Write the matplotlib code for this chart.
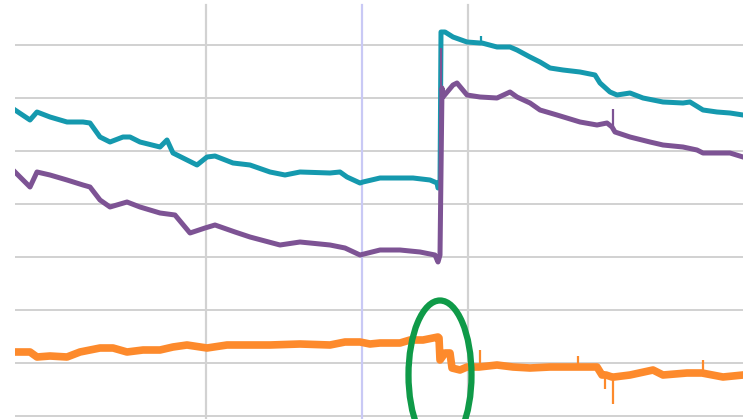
import numpy as np
import matplotlib
matplotlib.use("Agg")
import matplotlib.pyplot as plt
from matplotlib.patches import Ellipse

# Series (time index, signal level)
teal_t = [0, 15, 22, 35, 52, 68, 75, 85, 95, 108, 115, 125, 145, 152, 158, 172, 182, 192, 200,
          218, 235, 255, 270, 285, 315, 325, 332, 345, 348, 365, 382, 398, 415, 422, 423, 425,
          426, 430, 438, 452, 465, 467, 482, 495, 502, 515, 525, 535, 548, 565, 580, 585,
          595, 602, 615, 628, 648, 668, 675, 688, 702, 715, 728]
teal_v = [306, 296, 304, 299, 294, 294, 293, 279, 274, 279, 279, 274, 269, 276, 263, 256, 251, 259, 260,
          253, 251, 244, 241, 244, 243, 244, 239, 233, 234, 238, 238, 238, 236, 233, 228, 230,
          384, 384, 379, 374, 373, 373, 369, 369, 366, 359, 354, 348, 346, 344, 341, 333,
          324, 321, 323, 318, 314, 313, 314, 306, 304, 303, 301]
teal_spike_t = [466]
teal_spike_v = [380]

purple_t = [0, 15, 22, 35, 52, 68, 75, 85, 95, 112, 125, 145, 160, 175, 190, 200, 220, 235, 265,
            285, 315, 330, 345, 365, 385, 405, 420, 423, 425, 427, 428, 438, 442, 452, 465,
            482, 495, 502, 515, 525, 542, 565, 582, 592, 597, 600, 615, 635, 648, 668,
            682, 688, 702, 715, 728]
purple_v = [244, 229, 244, 241, 236, 231, 229, 216, 209, 214, 209, 203, 201, 183, 188, 191, 184, 179, 171,
            174, 171, 168, 161, 166, 166, 164, 161, 154, 161, 328, 319, 331, 333, 321, 319,
            318, 324, 319, 313, 306, 301, 294, 291, 293, 289, 284, 279, 274, 271, 269,
            266, 263, 263, 263, 259]
purple_spike_t = [426, 598]
purple_spike_v = [368, 307]

orange_t = [0, 15, 22, 35, 52, 65, 85, 98, 112, 128, 145, 158, 172, 192, 212, 232, 255, 285, 315,
            330, 345, 355, 365, 385, 395, 408, 423, 424, 425, 430, 435, 437, 445, 452, 464,
            482, 498, 515, 535, 562, 582, 587, 591, 597, 599, 615,
            638, 648, 672, 687, 708, 728]
orange_v = [64, 64, 59, 60, 59, 64, 68, 68, 64, 66, 66, 69, 71, 68, 71, 71, 71, 72, 71,
            74, 74, 72, 73, 73, 76, 76, 79, 78, 56, 63, 63, 48, 46, 49, 49,
            51, 49, 48, 49, 49, 49, 41, 41, 39, 39, 41,
            46, 41, 43, 43, 39, 41]
orange_spike_t = [465, 563, 590, 598, 688]
orange_spike_v = [66, 60, 27, 12, 56]

grid_levels = np.arange(0, 400, 53)
grid_times = [191, 453]
marker_time = 347

fig = plt.figure(figsize=(7.43, 4.19), dpi=100)
ax = fig.add_axes([15 / 743, 0, 728 / 743, 414 / 419])
ax.set_xlim(0, 728)
ax.set_ylim(-3, 411)

for lv in grid_levels:
    ax.axhline(lv, color="#c9c9c9", lw=1.2, zorder=0)
for gt in grid_times:
    ax.axvline(gt, color="#d2d2d2", lw=1.6, zorder=0, clip_on=False)
ax.axvline(marker_time, color="#c9c9f5", lw=1.6, zorder=0, clip_on=False)

series = [
    (teal_t, teal_v, teal_spike_t, teal_spike_v, "#1599ae", 3.6, 2),
    (purple_t, purple_v, purple_spike_t, purple_spike_v, "#7d5394", 3.6, 3),
    (orange_t, orange_v, orange_spike_t, orange_spike_v, "#fd8a2c", 5.5, 2),
]
for t, v, st, sv, col, lw, z in series:
    ax.plot(t, v, color=col, lw=lw, solid_joinstyle="round", zorder=z)
    base = np.interp(st, t, v)
    ax.vlines(st, base, sv, color=col, lw=1.6, zorder=z)

# green highlight ring around the step
ring = Ellipse((425, 41), 63, 149, fill=False, edgecolor="#0f9a48", lw=4.5, zorder=4, clip_on=False)
ax.add_patch(ring)

ax.set_xticks([])
ax.set_yticks([])
for s in ax.spines.values():
    s.set_visible(False)

fig.savefig("out.png", dpi=100)
